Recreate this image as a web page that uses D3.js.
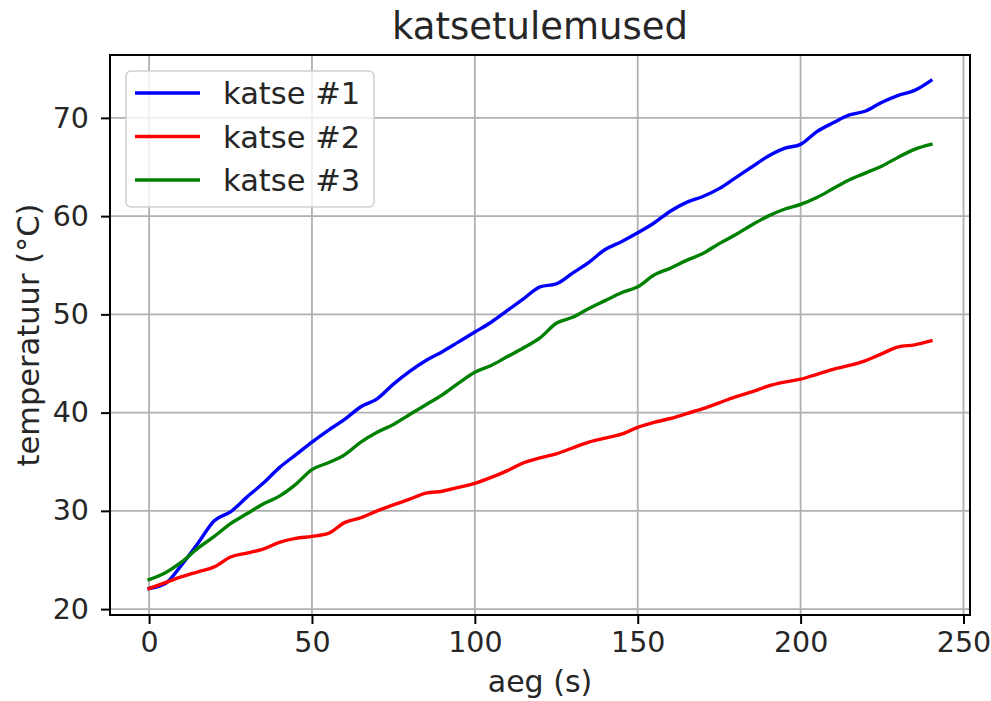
<!DOCTYPE html>
<html lang="en">
<head>
    <meta charset="UTF-8">
    <title>katsetulemused</title>
    <script src="https://cdnjs.cloudflare.com/ajax/libs/d3/7.8.5/d3.min.js"></script>
    <style>
        body {
            margin: 0;
            background: #fff;
        }
        .chart text {
            font-family: "DejaVu Sans", sans-serif;
            fill: #262626;
        }
    </style>
</head>
<body>
<div class="chart">
    <!-- chart goes here -->
</div>

<script type="text/javascript">
    // time in seconds, one reading every 5 s
    var aeg = [0, 5, 10, 15, 20, 25, 30, 35, 40, 45, 50, 55, 60, 65, 70, 75, 80, 85, 90, 95,
        100, 105, 110, 115, 120, 125, 130, 135, 140, 145, 150, 155, 160, 165, 170, 175, 180, 185, 190, 195,
        200, 205, 210, 215, 220, 225, 230, 235, 240];

    var katse1 = [22.1, 22.6, 24.5, 26.7, 29.0, 29.9, 31.4, 32.8, 34.4, 35.7, 37.0, 38.2, 39.3, 40.6, 41.4, 42.9, 44.2, 45.3, 46.2, 47.2,
        48.2, 49.2, 50.4, 51.6, 52.8, 53.1, 54.2, 55.3, 56.6, 57.4, 58.3, 59.3, 60.5, 61.4, 62.0, 62.8, 63.9, 65.0, 66.1, 66.9,
        67.3, 68.6, 69.5, 70.3, 70.7, 71.6, 72.3, 72.8, 73.8];

    var katse2 = [22.1, 22.7, 23.3, 23.8, 24.3, 25.3, 25.7, 26.1, 26.8, 27.2, 27.4, 27.7, 28.8, 29.3, 30.0, 30.6, 31.2, 31.8, 32.0, 32.4,
        32.8, 33.4, 34.1, 34.9, 35.4, 35.8, 36.4, 37.0, 37.4, 37.8, 38.5, 39.0, 39.4, 39.9, 40.4, 41.0, 41.6, 42.1, 42.7, 43.1,
        43.4, 43.9, 44.4, 44.8, 45.3, 46.0, 46.7, 46.9, 47.3];

    var katse3 = [23.0, 23.7, 24.8, 26.2, 27.4, 28.7, 29.7, 30.7, 31.5, 32.7, 34.2, 34.9, 35.7, 37.0, 38.0, 38.8, 39.8, 40.8, 41.8, 43.0,
        44.1, 44.8, 45.7, 46.6, 47.6, 49.1, 49.7, 50.6, 51.4, 52.2, 52.8, 54.0, 54.7, 55.5, 56.2, 57.2, 58.1, 59.1, 60.0, 60.7,
        61.2, 61.9, 62.8, 63.7, 64.4, 65.1, 66.0, 66.8, 67.3];

    var seriesNames = ['katse #1', 'katse #2', 'katse #3'];
    var seriesColors = ['#0000ff', '#ff0000', '#008000'];

    var xTicks = [0, 50, 100, 150, 200, 250];
    var yTicks = [20, 30, 40, 50, 60, 70];

    var w = 991;
    var h = 701;
    var margin = {top: 55, right: 21, bottom: 86, left: 110};
    var iw = w - margin.left - margin.right;
    var ih = h - margin.top - margin.bottom;

    var svg = d3.select('.chart').append('svg')
            .attr('width', w)
            .attr('height', h);

    // matplotlib style 5% padding around the data
    var x = d3.scaleLinear().domain([-12, 252]).range([0, iw]);
    var y = d3.scaleLinear().domain([19.4, 76.4]).range([ih, 0]);

    var g = svg.append('g')
            .attr('transform', 'translate(' + margin.left + ',' + margin.top + ')');

    // grid
    g.append('g')
            .selectAll('line.vg')
            .data(xTicks)
            .enter()
            .append('line')
            .attr('x1', function(d) { return x(d); })
            .attr('x2', function(d) { return x(d); })
            .attr('y1', 0)
            .attr('y2', ih)
            .attr('stroke', '#b0b0b0')
            .attr('stroke-width', 1.8);

    g.append('g')
            .selectAll('line.hg')
            .data(yTicks)
            .enter()
            .append('line')
            .attr('x1', 0)
            .attr('x2', iw)
            .attr('y1', function(d) { return y(d); })
            .attr('y2', function(d) { return y(d); })
            .attr('stroke', '#b0b0b0')
            .attr('stroke-width', 1.8);

    // lines
    var series = [katse1, katse2, katse3];
    var line = d3.line()
            .x(function(d, i) { return x(aeg[i]); })
            .y(function(d) { return y(d); })
            .curve(d3.curveMonotoneX);

    g.selectAll('path.serie')
            .data(series)
            .enter()
            .append('path')
            .attr('class', 'serie')
            .attr('d', line)
            .attr('fill', 'none')
            .attr('stroke', function(d, i) { return seriesColors[i]; })
            .attr('stroke-width', 3.4)
            .attr('stroke-linejoin', 'round')
            .attr('stroke-linecap', 'square');

    // axes
    var xAxis = g.append('g')
            .attr('transform', 'translate(0,' + ih + ')')
            .call(d3.axisBottom(x).tickValues(xTicks).tickSize(9).tickPadding(8).tickSizeOuter(0));
    var yAxis = g.append('g')
            .call(d3.axisLeft(y).tickValues(yTicks).tickSize(9).tickPadding(12).tickSizeOuter(0));

    [xAxis, yAxis].forEach(function(a) {
        a.select('.domain').remove();
        a.selectAll('line').attr('stroke', '#000').attr('stroke-width', 2);
        a.selectAll('text').style('font-size', '28.5px').attr('fill', '#262626');
    });

    // frame
    g.append('rect')
            .attr('width', iw)
            .attr('height', ih)
            .attr('fill', 'none')
            .attr('stroke', '#000')
            .attr('stroke-width', 2);

    // title and labels
    svg.append('text')
            .attr('x', margin.left + iw / 2)
            .attr('y', 39)
            .attr('text-anchor', 'middle')
            .style('font-size', '37px')
            .text('katsetulemused');

    svg.append('text')
            .attr('x', margin.left + iw / 2)
            .attr('y', 692)
            .attr('text-anchor', 'middle')
            .style('font-size', '30px')
            .text('aeg (s)');

    svg.append('text')
            .attr('transform', 'translate(39,' + (margin.top + ih / 2) + ') rotate(-90)')
            .attr('text-anchor', 'middle')
            .style('font-size', '30.5px')
            .text('temperatuur (°C)');

    // legend
    var lg = svg.append('g')
            .attr('transform', 'translate(126,71)');

    lg.append('rect')
            .attr('width', 248)
            .attr('height', 136)
            .attr('rx', 5)
            .attr('fill', 'rgba(255,255,255,0.8)')
            .attr('stroke', '#d0d0d0')
            .attr('stroke-width', 1.5);

    var items = lg.selectAll('g.item')
            .data(seriesNames)
            .enter()
            .append('g')
            .attr('transform', function(d, i) { return 'translate(0,' + (22 + i * 43.5) + ')'; });

    items.append('line')
            .attr('x1', 9)
            .attr('x2', 74)
            .attr('stroke', function(d, i) { return seriesColors[i]; })
            .attr('stroke-width', 3.4);

    items.append('text')
            .attr('x', 97)
            .attr('y', 11)
            .style('font-size', '30.5px')
            .text(function(d) { return d; });
</script>
</body>
</html>
